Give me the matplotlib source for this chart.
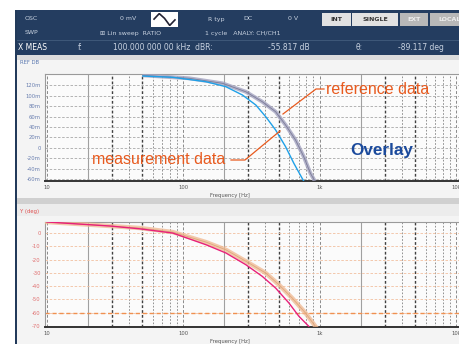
import numpy as np
import matplotlib
matplotlib.use("Agg")
import matplotlib.pyplot as plt
from matplotlib.patches import Rectangle
from matplotlib.lines import Line2D

# ---------------- data ----------------
x_ticks = [10, 100, 1000, 10000]
x_tick_labels = ["10", "100", "1k", "10k"]

top_ticks = [120, 100, 80, 60, 40, 20, 0, -20, -40, -60]
top_tick_labels = ["120m", "100m", "80m", "60m", "40m", "20m", "0", "-20m", "-40m", "-60m"]

bot_ticks = [0, -10, -20, -30, -40, -50, -60, -70]
bot_tick_labels = ["0", "-10", "-20", "-30", "-40", "-50", "-60", "-70"]

# top panel: measurement (blue) and reference (grey)
meas_gain_f = [50.5, 83.5, 146.5, 205, 271, 340, 402, 475, 562, 646, 743, 764]
meas_gain_v = [137.1, 134.7, 126.3, 116.8, 101, 81.9, 59.6, 34.3, 2.5, -29.1, -57.7, -62.9]
ref_gain_f = [50.2, 110.6, 194, 287, 379, 475, 562, 665, 764, 855, 920]
ref_gain_v = [138.5, 132.8, 123.2, 107.2, 88.2, 69.1, 43.8, 15.2, -16.6, -48.2, -62.9]

# bottom panel: phase, measurement (pink) and reference (orange)
meas_ph_f = [10, 28.8, 47.7, 83.5, 146.5, 205, 287, 379, 475, 594, 703, 832]
meas_ph_v = [8.3, 5.3, 3.2, 0, -8.8, -15, -23.8, -32.6, -41.4, -52.6, -62.6, -70.2]
ref_ph_f = [10, 28.8, 47.7, 83.5, 146.5, 205, 303, 402, 502, 628, 787, 930]
ref_ph_v = [8.3, 5.3, 3.8, 0.75, -6.8, -12.6, -22.6, -30.1, -38.9, -48.9, -60.2, -70.2]

W, H = 460, 344
fig = plt.figure(figsize=(W / 100, H / 100), dpi=100)
fig.patch.set_facecolor("white")


def fr(x0, y0, x1, y1):
    """pixel box (top-left origin) -> figure fraction [l, b, w, h]"""
    return [x0 / W, 1 - y1 / H, (x1 - x0) / W, (y1 - y0) / H]


def rect(x0, y0, x1, y1, fc, ec="none", lw=0, z=0):
    l, b, w, h = fr(x0, y0, x1, y1)
    fig.patches.append(Rectangle((l, b), w, h, transform=fig.transFigure,
                                 facecolor=fc, edgecolor=ec, linewidth=lw, zorder=z))


def ftext(x, y, s, **kw):
    kw.setdefault("zorder", 12)
    fig.text(x / W, 1 - y / H, s, **kw)


# screen backgrounds
rect(15, 10, 470, 350, "#f4f4f4")
rect(15, 10, 17, 350, "#223a5a")
rect(17, 10, 470, 55, "#243d60")
rect(17, 40, 470, 41, "#3d5778")
rect(17, 55, 470, 60, "#dcdcdc")
rect(17, 198, 470, 204, "#d0d0d0")
rect(17, 204, 470, 216, "#ececec")

# header texts
hc = "#c8d2e0"
ftext(25, 19, "OSC", color=hc, fontsize=4.5, va="center")
ftext(120, 19, "0 mV", color=hc, fontsize=4.5, va="center")
rect(151, 12, 178, 27, "white", z=1)
ftext(208, 19, "R typ", color=hc, fontsize=4.5, va="center")
ftext(243, 19, "DC", color=hc, fontsize=4.5, va="center")
ftext(288, 19, "0 V", color=hc, fontsize=4.5, va="center")
for (x0, x1, lab, fc, tc) in [(322, 351, "INT", "#e2e2e2", "#333"),
                               (352, 398, "SINGLE", "#e2e2e2", "#333"),
                               (400, 428, "EXT", "#b8b8b8", "#eee"),
                               (430, 470, "LOCAL", "#b8b8b8", "#eee")]:
    rect(x0, 13, x1, 26, fc, z=1)
    ftext((x0 + x1) / 2, 19.5, lab, color=tc, fontsize=4.5, ha="center", va="center",
          fontweight="bold")
ftext(25, 33, "SWP", color=hc, fontsize=4.5, va="center")
ftext(100, 33, "\u229e Lin sweep  RATIO", color=hc, fontsize=4.5, va="center")
ftext(205, 33, "1 cycle   ANALY: CH/CH1", color=hc, fontsize=4.5, va="center")
ftext(18, 47, "X MEAS", color="white", fontsize=5.5, va="center")
ftext(78, 47, "f:", color=hc, fontsize=5.5, va="center")
ftext(113, 47, "100.000 000 00 kHz  dBR:", color=hc, fontsize=5.5, va="center")
ftext(268, 47, "-55.817 dB", color=hc, fontsize=5.5, va="center")
ftext(356, 47, "\u03b8:", color=hc, fontsize=5.5, va="center")
ftext(398, 47, "-89.117 deg", color=hc, fontsize=5.5, va="center")

# sine icon in the white box
ic = fig.add_axes(fr(153, 13, 176, 26))
ic.set_zorder(6)
ic.axis("off")
ic.plot([0, 1, 2, 3, 4], [0.2, 0.9, 0.3, -0.6, 0.1], color="#223", lw=1.2)

ftext(20, 63, "REF DB", color="#5a78b0", fontsize=3.8, va="center")
ftext(20, 211, "Y (deg)", color="#e05050", fontsize=3.8, va="center")

xmin = 10 ** (1 - 2 / 137)
xmax = 10 ** (1 + 425 / 137)


def style_axes(ax, gridc, labc, ticks, labels, yl):
    ax.set_zorder(5)
    ax.set_xscale("log")
    ax.set_xlim(xmin, xmax)
    ax.set_ylim(*yl)
    ax.set_facecolor("#fbfbfb")
    ax.set_yticks(ticks)
    ax.set_yticklabels(labels)
    ax.set_xticks(x_ticks)
    ax.set_xticklabels(x_tick_labels)
    ax.minorticks_off()
    ax.tick_params(axis="both", length=0, labelsize=3.8, pad=3)
    for t in ax.get_yticklabels():
        t.set_color(labc)
    for t in ax.get_xticklabels():
        t.set_color("#555")
    for s in ["top", "right", "left"]:
        ax.spines[s].set_color("#9a9a9a")
        ax.spines[s].set_linewidth(0.8)
    ax.spines["bottom"].set_color("#333")
    ax.spines["bottom"].set_linewidth(1.4)
    # vertical grid lines
    for dec in [10, 100, 1000]:
        for m in range(1, 10):
            f = dec * m
            if m == 1:
                ax.axvline(f, color="#8a8a8a", lw=0.7, ls=(0, (3, 2)), zorder=1)
            elif m == 2:
                ax.axvline(f, color="#a0a0a0", lw=0.8, zorder=1)
            elif m in (3, 5):
                ax.axvline(f, color="#404040", lw=1.0, ls=(0, (2, 1.5)), zorder=1)
            else:
                ax.axvline(f, color="#808080", lw=0.6, ls=(0, (2, 2)), zorder=1)
    ax.axvline(10000, color="#8a8a8a", lw=0.7, ls=(0, (3, 2)), zorder=1)
    for t in ticks:
        ax.axhline(t, color=gridc, lw=0.6, ls=(0, (3, 2)), zorder=1)


# ---------------- top panel ----------------
ax1 = fig.add_axes(fr(45, 74, 470, 181))
style_axes(ax1, "#a8a8a8", "#6a7fb0", top_ticks, top_tick_labels,
           (-62.9, 141))
ax1.plot(ref_gain_f, ref_gain_v, color="#a2a2c0", lw=2.8, alpha=0.8,
         solid_capstyle="butt", solid_joinstyle="round", zorder=3)
ax1.plot(ref_gain_f, ref_gain_v, color="#7c7c98", lw=0.6, zorder=3)
ax1.plot(meas_gain_f, meas_gain_v, color="#1ea0e8", lw=1.0, zorder=4,
         solid_joinstyle="round")
ftext(230, 195, "Frequency [Hz]", color="#555", fontsize=3.8, ha="center", va="center")

# ---------------- bottom panel ----------------
ax2 = fig.add_axes(fr(45, 222, 470, 327))
style_axes(ax2, "#f2c0a0", "#e07070", bot_ticks, bot_tick_labels,
           (-70.7, 8.3))
ax2.axhline(-60, color="#f09050", lw=1.0, ls=(0, (3, 2)), zorder=2)
ax2.plot(ref_ph_f, ref_ph_v, color="#f0b890", lw=3.2, alpha=0.75, zorder=3,
         solid_joinstyle="round")
ax2.plot(ref_ph_f, ref_ph_v, color="#d8a070", lw=0.6, alpha=0.8, zorder=3)
ax2.plot(meas_ph_f, meas_ph_v, color="#e8207a", lw=1.0, zorder=4,
         solid_joinstyle="round")
ftext(230, 341, "Frequency [Hz]", color="#555", fontsize=3.8, ha="center", va="center")

# ---------------- annotations ----------------
oc = "#e85a1e"
afont = ["Liberation Sans", "DejaVu Sans"]
ftext(326, 89, "reference data", color=oc, fontsize=11.5, va="center", family=afont)
ftext(92, 160, "measurement data", color=oc, fontsize=11.5, va="center", family=afont)
ftext(350, 150, "Overlay", color="#1b4a9c", fontsize=12.3, fontweight="bold",
      va="center", family=afont)


def fline(pts):
    xs = [p[0] / W for p in pts]
    ys = [1 - p[1] / H for p in pts]
    fig.lines.append(Line2D(xs, ys, transform=fig.transFigure, color=oc, lw=0.9, zorder=12))


fline([(324, 89), (316, 89), (283, 114)])
fline([(231, 160), (245, 160), (280, 131)])

fig.savefig("out.png", dpi=100, facecolor="white")
